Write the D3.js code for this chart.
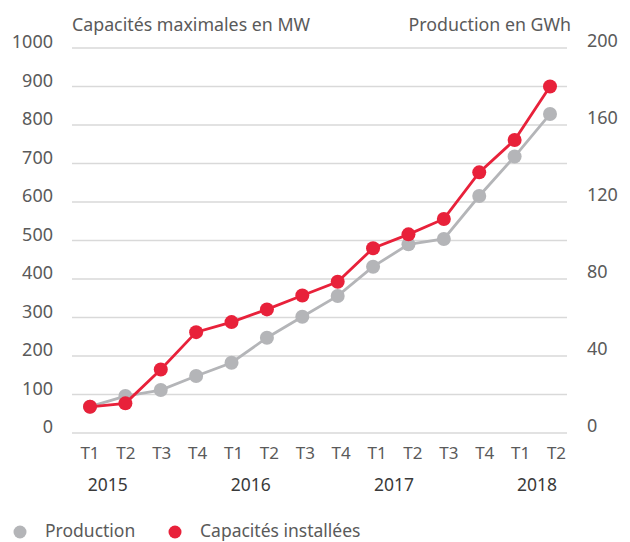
<!DOCTYPE html>
<html>
<head>
<meta charset="utf-8">
<script src="https://cdn.jsdelivr.net/npm/d3@7"></script>
<style>
  body { margin: 0; background: #fff; }
  svg { font-family: "Noto Sans", sans-serif; }
</style>
</head>
<body>
<div id="chart"></div>
<script>
// quarters and years along the bottom
var quarters = ["T1", "T2", "T3", "T4", "T1", "T2", "T3", "T4", "T1", "T2", "T3", "T4", "T1", "T2"];
var years = [
  { label: "2015", from: 0, to: 1 },
  { label: "2016", from: 4, to: 5 },
  { label: "2017", from: 8, to: 9 },
  { label: "2018", from: 12, to: 13 }
];

// Capacités installées (MW, left axis)
var capacites = [68, 77, 165, 262, 288, 321, 357, 393, 480, 516, 556, 677, 761, 900];
// Production (GWh, right axis)
var production = [13.7, 19.2, 22.3, 29.6, 36.5, 49.5, 60.4, 71.2, 86.4, 98, 100.8, 123.1, 143.6, 165.7];

var leftTicks = [0, 100, 200, 300, 400, 500, 600, 700, 800, 900, 1000];
var rightTicks = [0, 40, 80, 120, 160, 200];

var W = 630, H = 542;
var red = "#e8213a", grey = "#b4b5b8", textCol = "#5a5a5a";

var svg = d3.select("#chart").append("svg")
  .attr("width", W)
  .attr("height", H);

var x = d3.scaleLinear().domain([0, quarters.length - 1]).range([90, 550]);
var yLeft = d3.scaleLinear().domain([0, 1000]).range([433, 48]);
var yRight = d3.scaleLinear().domain([0, 200]).range([433, 48]);

// gridlines
svg.append("g")
  .selectAll("line")
  .data(leftTicks)
  .join("line")
  .attr("x1", 72)
  .attr("x2", 567)
  .attr("y1", d => yLeft(d))
  .attr("y2", d => yLeft(d))
  .attr("stroke", "#d9d9d9")
  .attr("stroke-width", 1.3);

// left axis labels
svg.append("g")
  .selectAll("text")
  .data(leftTicks)
  .join("text")
  .attr("x", 53)
  .attr("y", d => yLeft(d) - 6)
  .attr("dy", "0.35em")
  .attr("text-anchor", "end")
  .attr("fill", textCol)
  .attr("font-size", 18)
  .text(d => d);

// right axis labels
svg.append("g")
  .selectAll("text")
  .data(rightTicks)
  .join("text")
  .attr("x", 587)
  .attr("y", d => yRight(d) - 7)
  .attr("dy", "0.35em")
  .attr("fill", textCol)
  .attr("font-size", 18)
  .text(d => d);

// axis titles
svg.append("text")
  .attr("x", 72)
  .attr("y", 25)
  .attr("dy", "0.35em")
  .attr("fill", textCol)
  .attr("font-size", 17.8)
  .text("Capacités maximales en MW");

svg.append("text")
  .attr("x", 571)
  .attr("y", 25)
  .attr("dy", "0.35em")
  .attr("text-anchor", "end")
  .attr("fill", textCol)
  .attr("font-size", 17.8)
  .text("Production en GWh");

// quarter labels
svg.append("g")
  .selectAll("text")
  .data(quarters)
  .join("text")
  .attr("x", (d, i) => x(i) + i * 0.5)
  .attr("y", 453)
  .attr("dy", "0.35em")
  .attr("text-anchor", "middle")
  .attr("fill", textCol)
  .attr("font-size", 17)
  .text(d => d);

// year labels
svg.append("g")
  .selectAll("text")
  .data(years)
  .join("text")
  .attr("x", d => (x(d.from) + x(d.to)) / 2 + d.from * 0.4)
  .attr("y", 485)
  .attr("dy", "0.35em")
  .attr("text-anchor", "middle")
  .attr("fill", "#3a3a3a")
  .attr("font-size", 17.5)
  .text(d => d.label);

// series
var series = [
  { name: "Production", values: production, y: yRight, color: grey },
  { name: "Capacités installées", values: capacites, y: yLeft, color: red }
];

series.forEach(s => {
  var line = d3.line()
    .x((d, i) => x(i))
    .y(d => s.y(d));
  var g = svg.append("g");
  g.append("path")
    .datum(s.values)
    .attr("fill", "none")
    .attr("stroke", s.color)
    .attr("stroke-width", 2.8)
    .attr("d", line);
  g.selectAll("circle")
    .data(s.values)
    .join("circle")
    .attr("cx", (d, i) => x(i))
    .attr("cy", d => s.y(d))
    .attr("r", 7)
    .attr("fill", s.color);
});

// legend
var legend = svg.append("g");
var legendItems = [
  { name: "Production", color: grey, x: 20 },
  { name: "Capacités installées", color: red, x: 175 }
];
legendItems.forEach(d => {
  legend.append("circle")
    .attr("cx", d.x)
    .attr("cy", 532)
    .attr("r", 6.5)
    .attr("fill", d.color);
  legend.append("text")
    .attr("x", d.x + 25)
    .attr("y", 531)
    .attr("dy", "0.35em")
    .attr("fill", textCol)
    .attr("font-size", 17.5)
    .text(d.name);
});
</script>
</body>
</html>
